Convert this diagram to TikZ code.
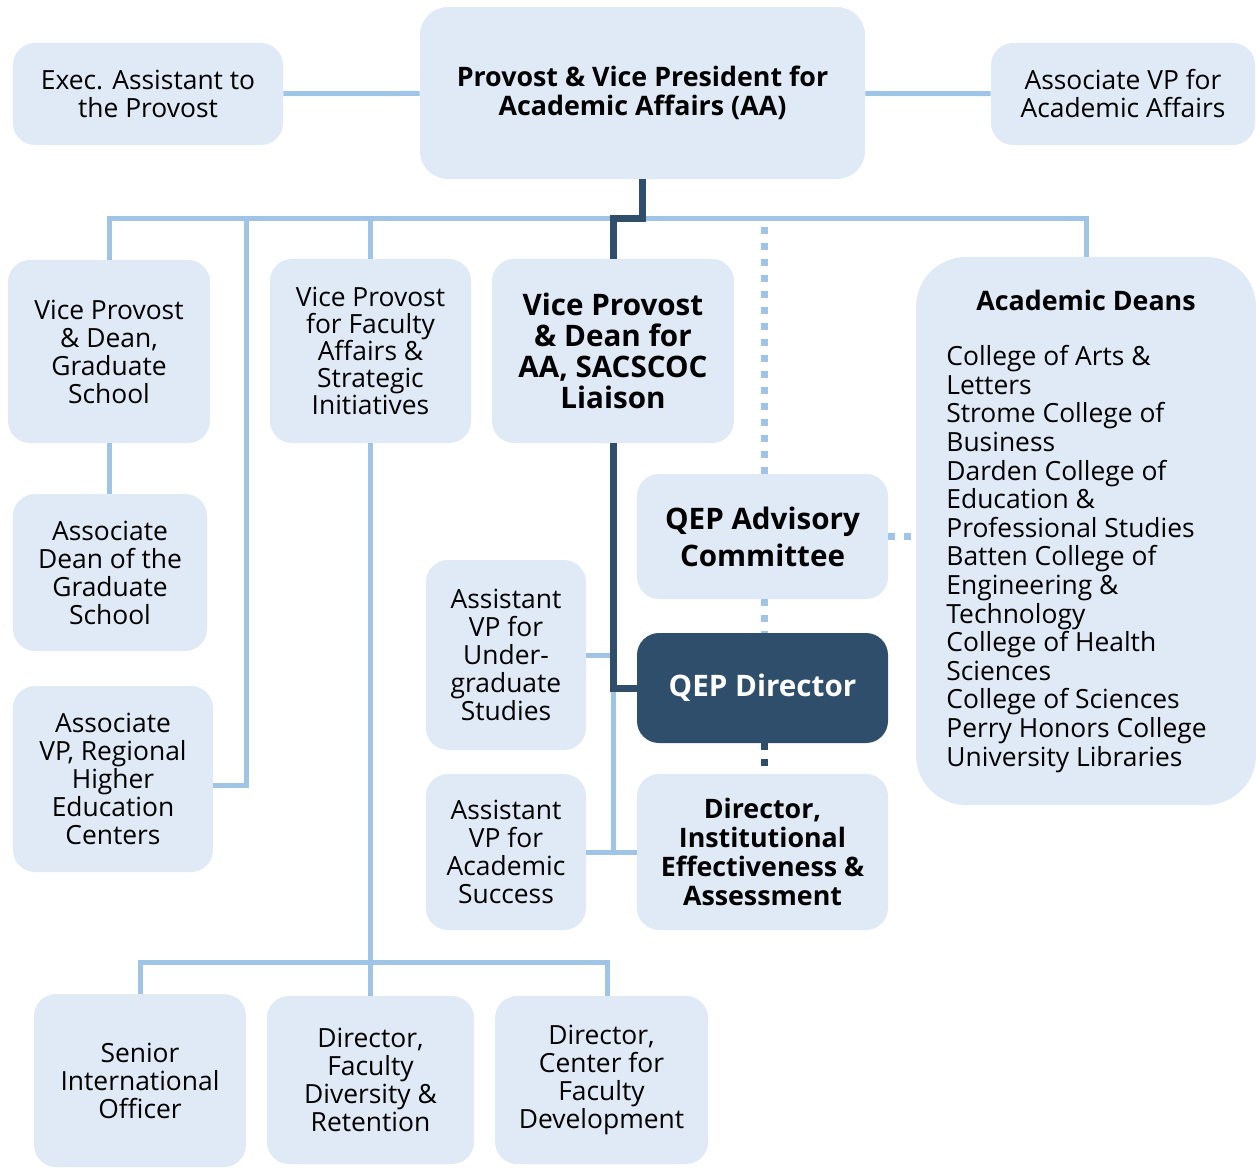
\documentclass[tikz,border=0pt]{standalone}
\usepackage{fontspec}
\setmainfont{Open Sans}
\usepackage{tikz}
\usetikzlibrary{calc}
\definecolor{boxblue}{HTML}{DFEAF6}
\definecolor{linkblue}{HTML}{A0C4E6}
\definecolor{navy}{HTML}{2E4E6B}

\begin{document}
\begin{tikzpicture}[line cap=butt,line join=miter,x=0.5pt,y=-0.5pt,
  unit/.style={rectangle,rounded corners=11pt,fill=boxblue,align=center,inner sep=0pt,
    font=\fontsize{13.2}{14}\selectfont},
  headunit/.style={unit,font=\bfseries\fontsize{13.4}{14.5}\selectfont},
  bigunit/.style={unit,font=\bfseries\fontsize{14.8}{15.6}\selectfont},
  link/.style={draw=linkblue,line width=2.5pt},
  chain/.style={draw=navy,line width=3.5pt},
  dotlink/.style={draw=linkblue,line width=3.5pt,dash pattern=on 3.5pt off 4.5pt},
  dotdark/.style={dotlink,draw=navy}]
\useasboundingbox (0,0) rectangle (1256,1169);
\node[headunit,rounded corners=14pt,minimum width=222.5pt,minimum height=86pt] (provost) at (642.5,93)
  {Provost \& Vice President for\\Academic Affairs (AA)};
\node[unit,minimum width=135pt,minimum height=51pt] (exec) at (148,94) {Exec. Assistant to\\the Provost};
\node[unit,minimum width=132pt,minimum height=51pt] (assocvp) at (1123,94) {Associate VP for\\Academic Affairs};
\node[unit,minimum width=101pt,minimum height=91.5pt] (vpgrad) at (109,351.5)
  {Vice Provost\\\& Dean,\\Graduate\\School};
\node[unit,font=\fontsize{13.2}{13.5}\selectfont,minimum width=100.5pt,minimum height=92pt] (vpfac) at (370.5,351)
  {Vice Provost\\for Faculty\\Affairs \&\\Strategic\\Initiatives};
\node[bigunit,minimum width=121pt,minimum height=92pt] (vpaa) at (613,351)
  {Vice Provost\\\& Dean for\\AA, SACSCOC\\Liaison};
\node[unit,rounded corners=25pt,minimum width=170pt,minimum height=274pt] (deans) at (1086,531) {};
\node[font=\bfseries\fontsize{13.4}{14}\selectfont,inner sep=0pt] (deanstitle) at (1086,300) {Academic Deans};
\node[anchor=north west,align=left,inner sep=0pt,font=\fontsize{13.2}{14.3}\selectfont] (deanslist) at (946,345)
  {College of Arts \&\\Letters\\Strome College of\\Business\\Darden College of\\Education \&\\Professional Studies\\
   Batten College of\\Engineering \&\\Technology\\College of Health\\Sciences\\College of Sciences\\
   Perry Honors College\\University Libraries};
\node[unit,minimum width=97pt,minimum height=78.5pt] (assocdean) at (110,572.5)
  {Associate\\Dean of the\\Graduate\\School};
\node[unit,minimum width=100pt,minimum height=93pt] (regional) at (113,779)
  {Associate\\VP, Regional\\Higher\\Education\\Centers};
\node[unit,font=\bfseries\fontsize{14.8}{18.5}\selectfont,minimum width=125.5pt,minimum height=62.5pt] (qepadv) at (762.5,536.5)
  {QEP Advisory\\Committee};
\node[unit,minimum width=80pt,minimum height=95pt] (undergrad) at (506,655)
  {Assistant\\VP for\\Under-\\graduate\\Studies};
\node[unit,fill=navy,text=white,font=\bfseries\fontsize{14.8}{18.5}\selectfont,minimum width=125.5pt,minimum height=55pt] (qepdir) at (762.5,688)
  {QEP Director};
\node[unit,minimum width=80pt,minimum height=78pt] (success) at (506,852)
  {Assistant\\VP for\\Academic\\Success};
\node[headunit,minimum width=125.5pt,minimum height=78pt] (iea) at (762.5,852)
  {Director,\\Institutional\\Effectiveness \&\\Assessment};
\node[unit,minimum width=106pt,minimum height=86.5pt] (intl) at (140,1080.5)
  {Senior\\International\\Officer};
\node[unit,minimum width=103.5pt,minimum height=84pt] (diversity) at (370.5,1080)
  {Director,\\Faculty\\Diversity \&\\Retention};
\node[unit,minimum width=106.5pt,minimum height=84pt] (cfd) at (601.5,1080)
  {Director,\\Center for\\Faculty\\Development};
\coordinate (bus) at (643,218);
\coordinate (regtap) at (246,218);
\coordinate (lowbus) at (370,962);
\draw[link] (exec) -- (provost);
\draw[link] (provost) -- (assocvp);
\draw[link] (vpgrad.north) |- (bus) -| (deans.north);
\draw[link] (vpfac.north) -- (vpfac.north |- bus);
\draw[link] ([yshift=-3pt]regional.east) -| (regtap);
\draw[link] (vpgrad.south) -- (vpgrad.south |- assocdean.north);
\draw[link] (vpfac.south) -- (diversity.north);
\draw[link] (intl.north) |- (lowbus) -| ([xshift=3pt]cfd.north);
\draw[link] (undergrad.east) -- (undergrad.east -| vpaa.south);
\draw[link] (qepdir.west -| vpaa.south) |- (iea.west);
\draw[link] (success.east) -- (iea.west);
\draw[dotlink] ([xshift=1pt]qepadv.north) -- ([xshift=1pt]qepadv.north |- bus);
\draw[dotlink] ([xshift=1pt]qepadv.south) -- ([xshift=1pt]qepdir.north);
\draw[dotlink] (qepadv.east) -- (qepadv.east -| deans.west);
\draw[dotdark] ([xshift=1pt]qepdir.south) -- ([xshift=1pt]iea.north);
\draw[chain] (provost.south) -- ++(0,39) -| (vpaa.north);
\draw[chain] (vpaa.south) |- (qepdir.west);
\end{tikzpicture}
\end{document}
